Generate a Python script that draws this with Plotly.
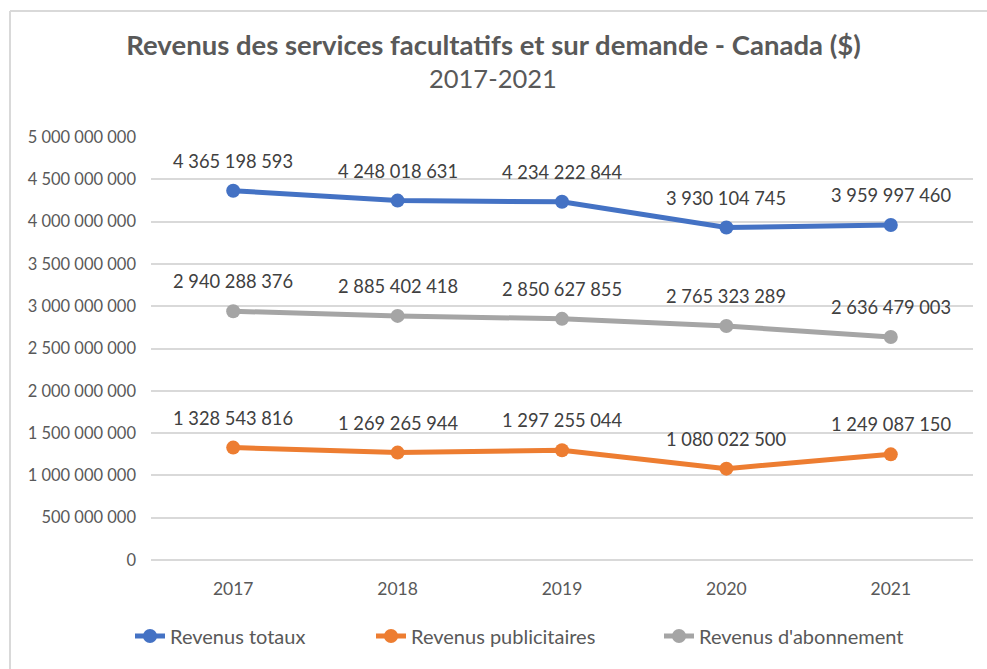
import plotly.graph_objects as go

years = ["2017", "2018", "2019", "2020", "2021"]
totaux = [4365198593, 4248018631, 4234222844, 3930104745, 3959997460]
publicitaires = [1328543816, 1269265944, 1297255044, 1080022500, 1249087150]
abonnement = [2940288376, 2885402418, 2850627855, 2765323289, 2636479003]

series = [
    ("Revenus totaux", totaux, "#4472C4", "legend2"),
    ("Revenus publicitaires", publicitaires, "#ED7D31", "legend3"),
    ("Revenus d'abonnement", abonnement, "#A5A5A5", "legend4"),
]

def fmt(v):
    return f"{v:,}".replace(",", " ")

FONT = "Lato"
L, R, T, B = 151, 14, 137, 109
W, H = 987, 669
PW, PH = W - L - R, H - T - B

def px(x):
    return (x - L) / PW

def py(y):
    return (H - B - y) / PH

fig = go.Figure()
annotations = []
for name, vals, color, lg in series:
    fig.add_trace(go.Scatter(
        x=years, y=vals, name=name, mode="lines+markers",
        line=dict(color=color, width=5),
        marker=dict(color=color, size=14),
        legend=lg,
    ))
    for i, v in enumerate(vals):
        annotations.append(dict(
            x=i, y=v, xref="x", yref="y", text=fmt(v), showarrow=False,
            yshift=30, font=dict(family=FONT, size=18.3, color="#404040"),
        ))

annotations.append(dict(
    x=px(493), y=py(78), xref="paper", yref="paper", xanchor="center", yanchor="middle",
    showarrow=False, text="2017-2021",
    font=dict(family=FONT, size=25.5, color="#595959"),
))

legend_common = dict(
    orientation="h", yref="container", y=1 - 636 / H, yanchor="middle", xanchor="left",
    font=dict(family=FONT, size=20, color="#595959"), bgcolor="rgba(0,0,0,0)",
)

fig.update_layout(
    width=W, height=H,
    margin=dict(l=L, r=R, t=T, b=B),
    paper_bgcolor="white", plot_bgcolor="white",
    separators=". ",
    title=dict(
        text="<b>Revenus des services facultatifs et sur demande - Canada ($)</b>",
        x=0.5, xref="container", xanchor="center", y=1 - 45 / H, yref="container", yanchor="middle",
        font=dict(family=FONT, size=27.5, color="#595959"),
    ),
    xaxis=dict(
        type="category",
        showgrid=False, showline=False, ticks="",
        tickfont=dict(family=FONT, size=17.5, color="#595959"),
        range=[-0.5, 4.5],
        ticklabelstandoff=16,
    ),
    yaxis=dict(
        range=[0, 5000000000], dtick=500000000, tickformat=",d",
        showgrid=True, gridcolor="#D9D9D9", gridwidth=1.5,
        zeroline=True, zerolinecolor="#D9D9D9", zerolinewidth=1.5,
        tickfont=dict(family=FONT, size=16.5, color="#595959"),
        ticklabelstandoff=14,
    ),
    showlegend=True,
    legend2=dict(legend_common, x=px(130)),
    legend3=dict(legend_common, x=px(371)),
    legend4=dict(legend_common, x=px(659)),
    annotations=annotations,
    shapes=[
        dict(type="line", xref="paper", yref="paper", x0=px(10), x1=px(1000),
             y0=py(11), y1=py(11), line=dict(color="#D9D9D9", width=2)),
        dict(type="line", xref="paper", yref="paper", x0=px(10), x1=px(10),
             y0=py(11), y1=py(680), line=dict(color="#D9D9D9", width=2)),
    ],
)
fig.write_html("out.html", config={"displayModeBar": False},
               post_script="document.body.style.margin='0';document.body.style.overflow='hidden';")
